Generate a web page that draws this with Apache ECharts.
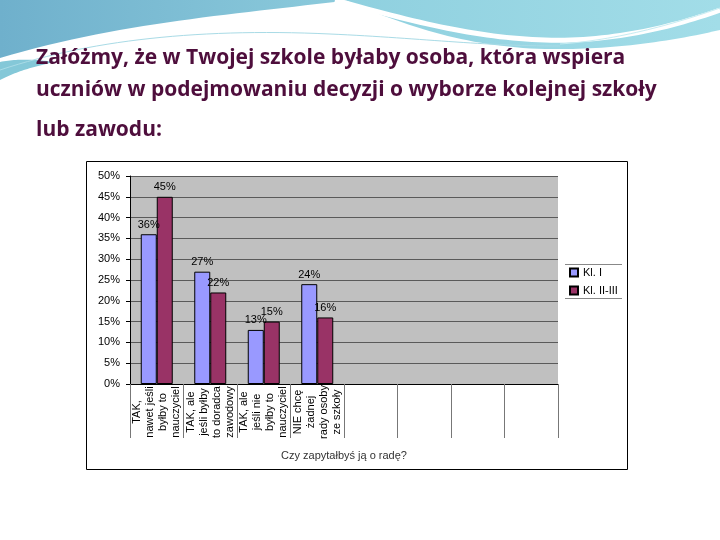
<!DOCTYPE html>
<html>
<head>
<meta charset="utf-8">
<script src="https://cdn.jsdelivr.net/npm/echarts@6/dist/echarts.min.js"></script>
<style>
  html, body { margin: 0; padding: 0; background: #ffffff; }
  #chart { width: 720px; height: 540px; }
</style>
</head>
<body>
<div id="chart"></div>
<script>
// odpowiedzi na pytanie "Czy zapytałbyś ją o radę?"
const categories = [
  'TAK,\nnawet jeśli\nbyłby to\nnauczyciel',
  'TAK, ale\njeśli byłby\nto doradca\nzawodowy',
  'TAK, ale\njeśli nie\nbyłby to\nnauczyciel',
  'NIE chcę\nżadnej\nrady osoby\nze szkoły',
  '', '', '', ''
];
const seriesNames = ['Kl. I', 'Kl. II-III'];
const klasaI = [36, 27, 13, 24];
const klasaIIIII = [45, 22, 15, 16];
const yTicks = [0, 50, 5]; // min, max, krok

const titleLines = [
  'Załóżmy, że w Twojej szkole byłaby osoba, która wspiera',
  'uczniów w podejmowaniu decyzji o wyborze kolejnej szkoły',
  'lub zawodu:'
];

const titleStyle = {
  fontFamily: 'Open Sans',
  fontWeight: 'bold',
  fontSize: 21,
  color: '#4e0e3c',
  lineHeight: 32
};
const smallFont = 'Liberation Sans';

function gradient(c1, c2) {
  return {
    type: 'linear', x: 0, y: 0, x2: 1, y2: 0,
    colorStops: [{ offset: 0, color: c1 }, { offset: 1, color: c2 }]
  };
}

// punkty krzywej Beziera dla ozdobnej fali
function cubic(p0, p1, p2, p3) {
  const pts = [];
  for (let i = 0; i <= 30; i++) {
    const t = i / 30, u = 1 - t;
    pts.push([
      u * u * u * p0[0] + 3 * u * u * t * p1[0] + 3 * u * t * t * p2[0] + t * t * t * p3[0],
      u * u * u * p0[1] + 3 * u * u * t * p1[1] + 3 * u * t * t * p2[1] + t * t * t * p3[1]
    ]);
  }
  return pts;
}

const chart = echarts.init(document.getElementById('chart'));

function barSeries(name, data, color) {
  return {
    name: name,
    type: 'bar',
    data: data,
    barWidth: 16,
    barGap: '0%',
    itemStyle: { color: color, borderColor: '#000', borderWidth: 1 },
    label: {
      show: true,
      position: 'top',
      distance: 4,
      formatter: '{c}%',
      fontFamily: smallFont,
      fontSize: 11,
      color: '#000'
    }
  };
}

chart.setOption({
  backgroundColor: '#ffffff',
  animation: false,
  title: [
    { text: titleLines[0] + '\n' + titleLines[1], left: 36, top: 42, padding: 0, textStyle: titleStyle },
    { text: titleLines[2], left: 36, top: 114, padding: 0, textStyle: titleStyle }
  ],
  graphic: [
    // ozdobna fala u góry slajdu
    {
      type: 'polygon', z: -20, silent: true,
      shape: { points: [[0, 0], [350, 0]].concat(cubic([350, 0], [240, 14], [120, 22], [0, 58])) },
      style: { fill: gradient('#6fb0cc', '#8ccbdc') }
    },
    {
      type: 'polygon', z: -20, silent: true,
      shape: {
        points: [[345, 0], [720, 0], [720, 30]]
          .concat(cubic([720, 30], [660, 44], [600, 50], [545, 49]))
          .concat(cubic([545, 49], [470, 47], [410, 28], [345, 0]))
      },
      style: { fill: gradient('#8fd0df', '#a2dde8') }
    },
    {
      type: 'polyline', z: -19, silent: true,
      shape: { points: cubic([335, 0], [420, 24], [480, 38], [545, 40]).concat(cubic([545, 40], [610, 42], [670, 28], [720, 10])) },
      style: { stroke: '#ffffff', lineWidth: 5 }
    },
    {
      type: 'polygon', z: -19, silent: true,
      shape: { points: cubic([0, 62], [20, 58], [40, 60], [55, 62]).concat(cubic([55, 62], [35, 66], [15, 72], [0, 80])) },
      style: { fill: '#84c8d8' }
    },
    {
      type: 'polyline', z: -19, silent: true,
      shape: { points: cubic([0, 70], [90, 40], [200, 28], [330, 34]).concat(cubic([330, 34], [420, 38], [480, 46], [560, 46])) },
      style: { stroke: '#a9dbe6', lineWidth: 1 }
    },
    {
      type: 'polyline', z: -19, silent: true,
      shape: { points: cubic([560, 44], [620, 40], [680, 22], [720, 8]) },
      style: { stroke: '#c6ecf2', lineWidth: 1 }
    },
    // ramka wykresu
    {
      type: 'rect', z: -10, silent: true,
      shape: { x: 86.5, y: 161.5, width: 541, height: 308 },
      style: { fill: '#ffffff', stroke: '#000', lineWidth: 1 }
    },
    // linie legendy
    {
      type: 'line', z: -5, silent: true,
      shape: { x1: 565, y1: 264.5, x2: 622, y2: 264.5 },
      style: { stroke: '#888', lineWidth: 1 }
    },
    {
      type: 'line', z: -5, silent: true,
      shape: { x1: 565, y1: 298.5, x2: 622, y2: 298.5 },
      style: { stroke: '#888', lineWidth: 1 }
    }
  ],
  legend: {
    data: seriesNames,
    orient: 'vertical',
    left: 569,
    top: 267,
    itemWidth: 8,
    itemHeight: 8,
    itemGap: 7,
    icon: 'rect',
    padding: 0,
    textStyle: { fontFamily: smallFont, fontSize: 11, color: '#000' }
  },
  grid: {
    left: 130,
    right: 162,
    top: 176,
    bottom: 156,
    show: true,
    backgroundColor: '#c0c0c0',
    borderWidth: 0
  },
  xAxis: {
    type: 'category',
    data: categories,
    name: 'Czy zapytałbyś ją o radę?',
    nameLocation: 'middle',
    nameGap: 66,
    nameTextStyle: { fontFamily: smallFont, fontSize: 11, color: '#333' },
    axisLine: { lineStyle: { color: '#000', width: 1 } },
    axisTick: { show: true, interval: 0, length: 54, lineStyle: { color: '#777' } },
    axisLabel: {
      interval: 0,
      rotate: 90,
      align: 'center',
      margin: 28,
      fontFamily: smallFont,
      fontSize: 11,
      lineHeight: 13,
      color: '#000'
    },
    splitLine: { show: false }
  },
  yAxis: {
    type: 'value',
    min: yTicks[0],
    max: yTicks[1],
    interval: yTicks[2],
    axisLine: { show: true, lineStyle: { color: '#000' } },
    axisTick: { show: true, length: 4, lineStyle: { color: '#000' } },
    axisLabel: {
      formatter: '{value}%',
      margin: 10,
      fontFamily: smallFont,
      fontSize: 11,
      color: '#000'
    },
    splitLine: { show: true, lineStyle: { color: '#5a5a5a', width: 1 } }
  },
  series: [
    barSeries(seriesNames[0], klasaI, '#9999ff'),
    barSeries(seriesNames[1], klasaIIIII, '#993366')
  ]
});
</script>
</body>
</html>
